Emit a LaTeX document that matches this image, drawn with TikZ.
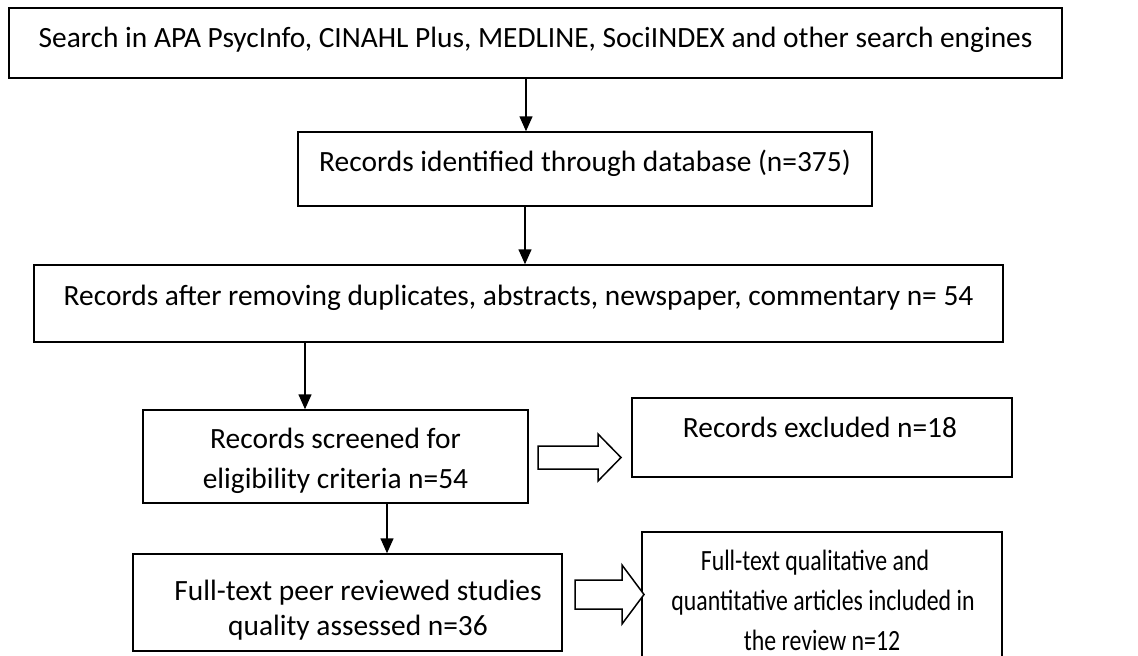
\documentclass[tikz,border=0pt]{standalone}
\usepackage{fontspec}
\setmainfont{Carlito}
\newfontfamily\narrowfont{Carlito}[FakeStretch=0.81]
\usetikzlibrary{arrows.meta}
\begin{document}
\begin{tikzpicture}[x=1pt,y=-1pt,
  box/.style={draw,line width=1.5pt,inner sep=0pt},
  txt/.style={anchor=base,inner sep=0pt,font=\fontsize{29.4}{40}\selectfont},
  ntxt/.style={anchor=base,inner sep=0pt,font=\narrowfont\fontsize{29.4}{40}\selectfont},
  arr/.style={line width=1.5pt,-{Triangle[length=15pt,width=13pt]}},
  blk/.style={draw,line width=1.5pt,fill=white,line join=miter}]
\useasboundingbox (0,0) rectangle (1138,656);
\fill[white] (0,0) rectangle (1138,656);
% boxes
\node[box,minimum width=1053pt,minimum height=70pt] (b1) at (535.5,43) {};
\node[box,minimum width=574pt,minimum height=74pt] (b2) at (585,169) {};
\node[box,minimum width=969pt,minimum height=77pt] (b3) at (518.5,303.5) {};
\node[box,minimum width=385pt,minimum height=93pt] (b4) at (335.5,456.5) {};
\node[box,minimum width=380pt,minimum height=79pt] (b5) at (822,437.5) {};
\node[box,minimum width=429pt,minimum height=97pt] (b6) at (347.5,602.5) {};
\node[box,minimum width=360pt,minimum height=140pt] (b7) at (822,602) {};
% texts
\node[txt] (t1) at (535.5,47) {Search in APA PsycInfo, CINAHL Plus, MEDLINE, SociINDEX and other search engines};
\node[txt] (t2) at (585,171) {Records identified through database (n=375)};
\node[txt] (t3) at (518.5,305) {Records after removing duplicates, abstracts, newspaper, commentary n= 54};
\node[txt] (t4a) at (335.5,448) {Records screened for};
\node[txt] (t4b) at (335.5,488) {eligibility criteria n=54};
\node[txt] (t5) at (820,437) {Records excluded n=18};
\node[txt] (t6a) at (358,600) {Full-text peer reviewed studies};
\node[txt] (t6b) at (358,635) {quality assessed n=36};
\node[ntxt] (t7a) at (815,570) {Full-text qualitative and};
\node[ntxt] (t7b) at (823,610) {quantitative articles included in};
\node[ntxt] (t7c) at (822,650) {the review n=12};
% connectors
\coordinate (x1) at (526,0);
\coordinate (x2) at (525,0);
\coordinate (x3) at (305,0);
\coordinate (x4) at (387,0);
\draw[arr] (x1 |- b1.south) -- (x1 |- b2.north);
\draw[arr] (x2 |- b2.south) -- (x2 |- b3.north);
\draw[arr] (x3 |- b3.south) -- (x3 |- b4.north);
\draw[arr] (x4 |- b4.south) -- (x4 |- b6.north);
% block arrows
\draw[blk] (538,446) -- (598,446) -- (598,434) -- (621,457.5) -- (598,481) -- (598,469) -- (538,469) -- cycle;
\draw[blk] (575,580) -- (622,580) -- (622,565) -- (644,594.5) -- (622,624) -- (622,609) -- (575,609) -- cycle;
\end{tikzpicture}
\end{document}
